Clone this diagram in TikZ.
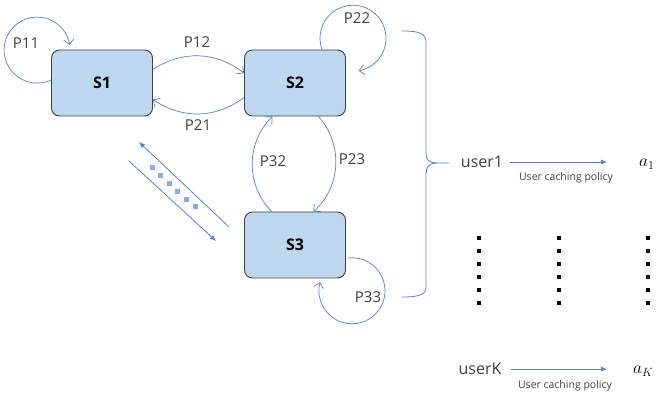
\documentclass[tikz,border=0pt]{standalone}
\usepackage{fontspec}
\setmainfont{Open Sans}
\usetikzlibrary{arrows.meta}
\definecolor{boxblue}{RGB}{189,215,238}
\definecolor{edgeblue}{RGB}{91,127,196}
\definecolor{dotblue}{RGB}{143,170,220}
\definecolor{txtgray}{RGB}{64,64,64}

\begin{document}
\begin{tikzpicture}[x=1pt,y=-1pt,
        state/.style={draw=txtgray,fill=boxblue,rounded corners=8pt,line width=0.9pt,minimum width=101pt,minimum height=66pt,text=black,font=\fontsize{16}{19}\selectfont\bfseries},
        trans/.style={draw=edgeblue,line width=0.7pt,-{Straight Barb[length=5pt,width=10pt]}},
        pol/.style={draw=edgeblue,line width=0.8pt,-{Latex[length=6pt,width=5pt]}},
        plabel/.style={text=txtgray,inner sep=1pt,font=\fontsize{15}{18}\selectfont},
        user/.style={text=txtgray,inner sep=1pt,font=\fontsize{16}{19}\selectfont},
        action/.style={anchor=west,inner sep=1pt,font=\fontsize{18}{22}\selectfont},
        policy/.style={text=txtgray,inner sep=1pt,font=\fontsize{10.5}{12}\selectfont}]
            \useasboundingbox (0,0) rectangle (657,401);
            \node[state] (S1) at (102,83) {S1};
            \node[state] (S2) at (295,83) {S2};
            \node[state] (S3) at (295,245) {S3};
            \draw[trans] (S1.west) ++(0,-3) arc[start angle=65,end angle=351,radius=33];
            \draw[trans] (S2.north) ++(27,0) arc[start angle=160,end angle=440,radius=33];
            \draw[trans] (S3.east) ++(2,13) arc[start angle=263,end angle=555,radius=33];
            \draw[trans] (S1.15) to[bend left=35] (S2.169);
            \draw[trans] (S2.196) to[bend left=35] (S1.-18);
            \draw[trans] (S3.125) to[bend left=45] (S2.236);
            \draw[trans] (S2.305) to[bend left=45] (S3.61);
            \node[plabel] (P11) at (26,43) {P11};
            \node[plabel] (P22) at (357,18) {P22};
            \node[plabel] (P33) at (368,297) {P33};
            \node[plabel] (P12) at (197,42) {P12};
            \node[plabel] (P21) at (198,125) {P21};
            \node[plabel] (P32) at (273,161) {P32};
            \node[plabel] (P23) at (352,159) {P23};
            \coordinate (D1) at (229,227);
            \coordinate (D2) at (139,142);
            \coordinate (D3) at (129,161);
            \coordinate (D4) at (216,241);
            \draw[pol] (D1) -- (D2);
            \draw[pol] (D3) -- (D4);
            \foreach \i in {0,...,5}
                \fill[dotblue] ({149.5+8.6*\i},{165.5+7.8*\i}) rectangle ++(5,5);
            \draw[edgeblue,line width=0.8pt] (402,31) .. controls (418,31) and (426,33) .. (426,42) -- (426,153)
                .. controls (426,160) and (429,163) .. (437,163) -- (449,163);
            \draw[edgeblue,line width=0.8pt] (437,163) .. controls (429,163) and (426,167) .. (426,174) -- (426,287)
                .. controls (426,295) and (418,297) .. (402,297);
            \node[user] (U1) at (482,162) {user1};
            \node[action] (A1) at (638,164) {$a_1$};
            \draw[pol,shorten <=6pt,shorten >=31pt] (U1.east) -- (U1.east -| A1.west);
            \node[policy] (C1) at (566,178) {User caching policy};
            \node[user] (UK) at (480,369) {userK};
            \node[action] (AK) at (632,371) {$a_K$};
            \draw[pol,shorten <=8pt,shorten >=25pt] (UK.east) -- (UK.east -| AK.west);
            \node[policy] (CK) at (565,386) {User caching policy};
            \foreach \x in {479,559,648}
                \foreach \y in {238,251,264,277,290,303}
                    \fill (\x-2,\y-2) rectangle ++(4,4);
        \end{tikzpicture}
\end{document}
